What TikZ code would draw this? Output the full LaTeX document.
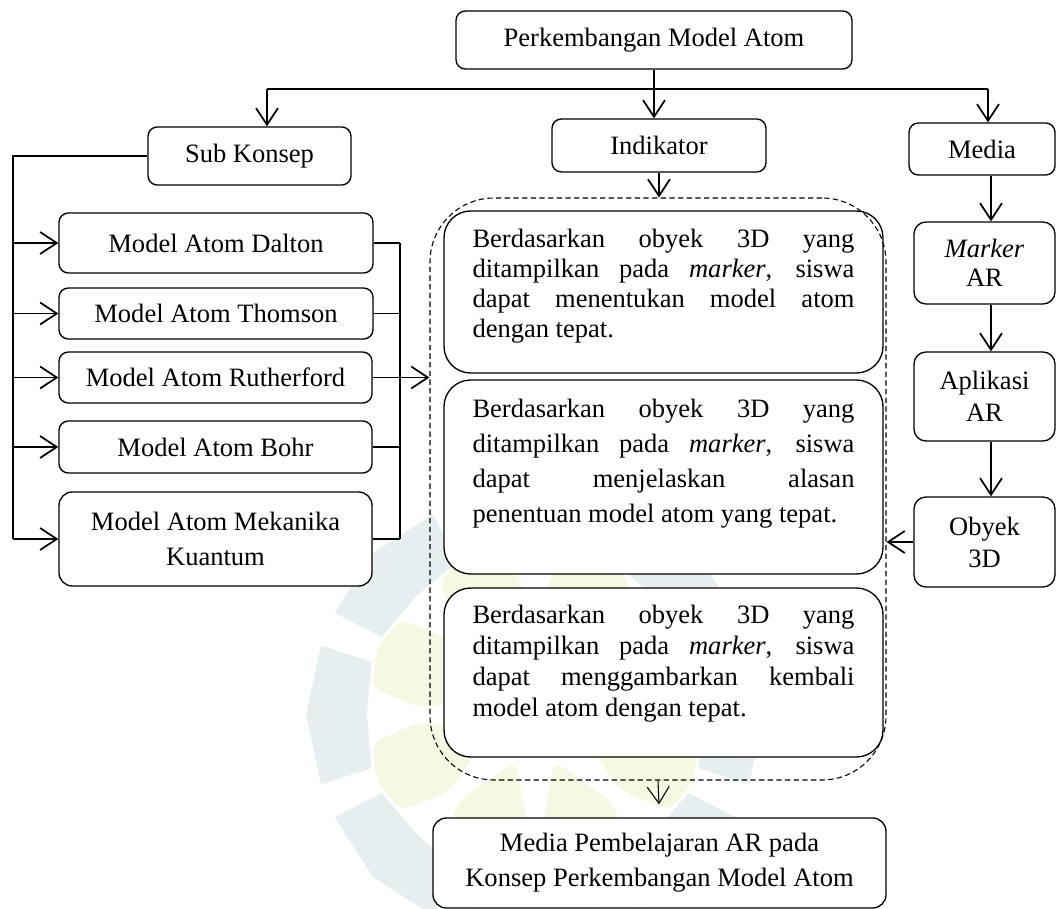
\documentclass[tikz,border=0pt]{standalone}
\usepackage{fontspec}
\setmainfont{Liberation Serif}
\usetikzlibrary{arrows.meta}
\newcommand\fsz{\fontsize{19.9}{24}\selectfont}
\newcommand\parfnt[1]{\fontsize{19.9}{#1}\selectfont\tolerance=10000\relax\hyphenpenalty=10000\relax}
\definecolor{wmblue}{RGB}{231,238,240}
\definecolor{wmyel}{RGB}{246,248,226}
\begin{document}
\begin{tikzpicture}[x=0.75pt,y=-0.75pt,
  box/.style={draw=black, fill=white, line width=1pt, rounded corners=7pt, inner sep=0pt, align=center, font=\fsz},
  rbox/.style={box, rounded corners=9pt},
  bigbox/.style={draw=black, fill=white, line width=1pt, rounded corners=20pt, inner sep=0pt, minimum width=329.25pt},
  para/.style={inner sep=0pt, text width=286.5pt, align=justify},
  conn/.style={line width=1.3pt},
  arr/.style={conn, -{Straight Barb[length=12.5pt,width=16.5pt]}},
  dashbox/.style={draw=black, line width=0.8pt, dash pattern=on 4pt off 2.5pt, rounded corners=48pt, inner sep=0pt}
]
\useasboundingbox (0,0) rectangle (1057,909);
% faint watermark
\begin{scope}[shift={(535,715)}]
  \foreach \a in {0,45,...,315}
    \fill[wmblue] (\a-18:172) -- (\a-18:225) -- (\a:229) -- (\a+18:225) -- (\a+18:172) -- (\a:168) -- cycle;
  \foreach \a in {22.5,67.5,...,337.5}
    \fill[wmyel, rounded corners=8pt] (\a:50) -- (\a-19:115) -- (\a-13:165) -- (\a:172) -- (\a+13:165) -- (\a+19:115) -- cycle;
\end{scope}
% top level
\node[box, minimum width=297pt, minimum height=43.5pt] (top) at (654,40) {Perkembangan Model Atom};
\node[box, minimum width=152.25pt, minimum height=43.5pt] (sub) at (249.5,156) {Sub Konsep};
\node[box, minimum width=160.5pt, minimum height=39.75pt] (ind) at (659,145.5) {Indikator};
\node[box, minimum width=109.5pt, minimum height=39pt] (media) at (982,149) {Media};
% right column
\node[rbox, minimum width=105.75pt, minimum height=61.5pt] (marker) at (984.5,263) {\textit{Marker}\\[-2pt]AR};
\node[rbox, minimum width=105.75pt, minimum height=66.75pt] (apl) at (984.5,396.5) {Aplikasi\\AR};
\node[rbox, minimum width=105.75pt, minimum height=67.5pt] (oby) at (984.5,542) {Obyek\\3D};
% left column
\node[box, minimum width=235.5pt, minimum height=45pt] (dalton) at (216,243) {Model Atom Dalton};
\node[box, minimum width=235.5pt, minimum height=38.25pt] (thomson) at (216,313.5) {Model Atom Thomson};
\node[box, minimum width=234.75pt, minimum height=38.25pt] (ruth) at (215.5,377.5) {Model Atom Rutherford};
\node[box, minimum width=234.75pt, minimum height=39pt] (bohr) at (215.5,447) {Model Atom Bohr};
\node[box, rounded corners=10pt, minimum width=234.75pt, minimum height=70.5pt, font=\fontsize{19.9}{26.25}\selectfont] (mek) at (215.5,539) {Model Atom Mekanika\\Kuantum};
% indicator boxes
\node[bigbox, minimum height=121.5pt] (i1) at (663.5,292) {};
\node[bigbox, minimum height=145.5pt] (i2) at (663.5,477) {};
\node[bigbox, minimum height=126.75pt] (i3) at (663.5,672.5) {};
\node[para, font=\parfnt{22.5pt}] (i1t) at (663.5,286.5)
  {Berdasarkan obyek 3D yang\linebreak ditampilkan pada \textit{marker}, siswa\linebreak dapat menentukan model atom\linebreak dengan tepat.};
\node[para, font=\parfnt{26.25pt}] (i2t) at (663.5,464)
  {Berdasarkan obyek 3D yang\linebreak ditampilkan pada \textit{marker}, siswa\linebreak dapat menjelaskan alasan\linebreak penentuan model atom yang tepat.};
\node[para, font=\parfnt{23.25pt}] (i3t) at (663.5,664)
  {Berdasarkan obyek 3D yang\linebreak ditampilkan pada \textit{marker}, siswa\linebreak dapat menggambarkan kembali\linebreak model atom dengan tepat.};
\node[dashbox, minimum width=342pt, minimum height=436.5pt] (dash) at (658,489) {};
% bottom
\node[box, rounded corners=10pt, minimum width=339.75pt, minimum height=67.5pt, font=\fontsize{19.9}{26.25}\selectfont] (bot) at (659.5,863) {Media Pembelajaran AR pada\\Konsep Perkembangan Model Atom};
% connectors
\coordinate (hl) at (267,89);
\coordinate (hr) at (988,89);
\draw[conn] (hl) -- (hr);
\draw[arr] (hl) -- (hl |- sub.north);
\draw[arr] (hr) -- (hr |- media.north);
\draw[arr] (top.south) -- (top.south |- ind.north);
\coordinate (lx) at (13,0);
\draw[conn] (sub.west) -- (lx |- sub.west) -- (lx |- mek.west);
\foreach \n in {dalton,thomson,ruth,bohr,mek} \draw[arr] (lx |- \n.west) -- (\n.west);
\coordinate (rx) at (400,0);
\draw[conn] (rx |- dalton.east) -- (rx |- mek.east);
\foreach \n in {dalton,thomson,bohr,mek} \draw[conn] (\n.east) -- (rx |- \n.east);
\draw[arr] (ruth.east) -- (dash.west |- ruth.east);
\draw[arr] (ind.south) -- (ind.south |- dash.north);
\coordinate (cc) at (991,0);
\draw[arr] (cc |- media.south) -- (cc |- marker.north);
\draw[arr] (cc |- marker.south) -- (cc |- apl.north);
\draw[arr] (cc |- apl.south) -- (cc |- oby.north);
\draw[arr] (oby.west) -- (dash.east |- oby.west);
\draw[arr, line width=0.8pt, shorten >=9.75pt] (dash.south) -- (bot.north);
\end{tikzpicture}
\end{document}
